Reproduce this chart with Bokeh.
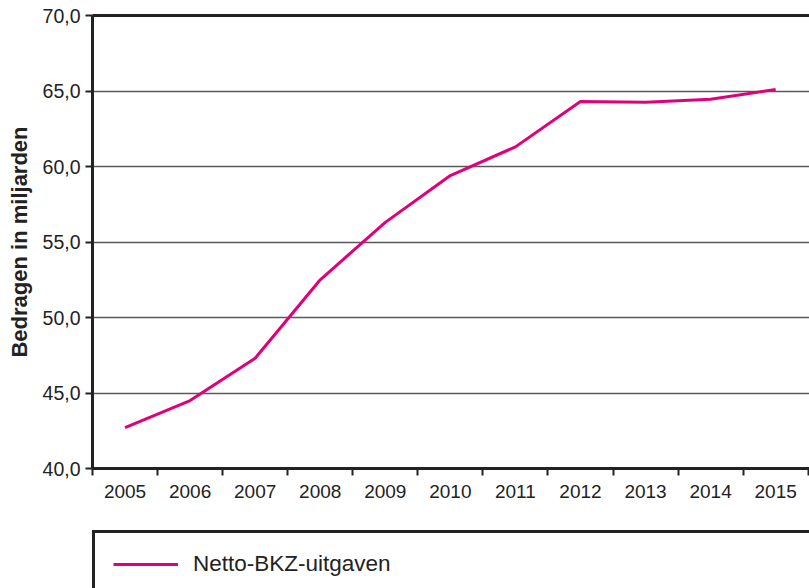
from bokeh.plotting import figure
from bokeh.layouts import column
from bokeh.models import Range1d, FixedTicker, LinearAxis
from bokeh.embed import file_html
from bokeh.resources import INLINE

years = [2005, 2006, 2007, 2008, 2009, 2010, 2011, 2012, 2013, 2014, 2015]
netto_bkz = [42.7, 44.5, 47.3, 52.5, 56.3, 59.4, 61.3, 64.3, 64.25, 64.45, 65.1]
series_name = "Netto-BKZ-uitgaven"
y_ticks = [40, 45, 50, 55, 60, 65, 70]
y_tick_labels = ["40,0", "45,0", "50,0", "55,0", "60,0", "65,0", "70,0"]
x_tick_labels = [str(y) for y in years]
y_title = "Bedragen in miljarden"

FONT = "Liberation Sans"
DARK = "#222222"
PINK = "#E2007A"

p = figure(width=809, height=518, output_backend="svg", toolbar_location=None,
           x_range=Range1d(years[0] - 0.5, years[-1] + 0.52),
           y_range=Range1d(40, 70),
           min_border_left=92, min_border_top=15, min_border_right=0,
           min_border_bottom=50)
p.outline_line_color = None
p.background_fill_color = "white"
p.border_fill_color = "white"

p.line(years, netto_bkz, line_color=PINK, line_width=3)

# x axis
xa = p.xaxis[0]
xa.ticker = FixedTicker(ticks=years, minor_ticks=[y - 0.5 for y in years] + [years[-1] + 0.5])
xa.major_label_overrides = dict(zip(years, x_tick_labels))
xa.major_tick_line_color = None
xa.major_tick_out = 7
xa.major_tick_in = 0
xa.minor_tick_line_color = DARK
xa.minor_tick_line_width = 2
xa.minor_tick_out = 7
xa.minor_tick_in = 0
xa.axis_line_color = DARK
xa.axis_line_width = 3
xa.major_label_standoff = 9
xa.major_label_text_font = FONT
xa.major_label_text_font_size = "19px"
xa.major_label_text_color = DARK

# y axis
ya = p.yaxis[0]
ya.ticker = FixedTicker(ticks=y_ticks, minor_ticks=[])
ya.major_label_overrides = dict(zip(y_ticks, y_tick_labels))
ya.major_tick_line_color = DARK
ya.major_tick_line_width = 2
ya.major_tick_out = 7
ya.major_tick_in = 0
ya.axis_line_color = DARK
ya.axis_line_width = 3
ya.major_label_standoff = 5
ya.major_label_text_font = FONT
ya.major_label_text_font_size = "19.5px"
ya.major_label_text_color = DARK
ya.axis_label = y_title
ya.axis_label_text_font = FONT
ya.axis_label_text_font_style = "bold"
ya.axis_label_text_font_size = "22px"
ya.axis_label_text_color = DARK
ya.axis_label_standoff = 8

# top border line
top = LinearAxis(ticker=FixedTicker(ticks=[]), major_label_text_font_size="0px",
                 axis_line_color=DARK, axis_line_width=3,
                 major_tick_line_color=None, minor_tick_line_color=None)
p.add_layout(top, "above")

p.xgrid.visible = False
p.ygrid.ticker = FixedTicker(ticks=y_ticks)
p.ygrid.grid_line_color = "#5a5a5a"
p.ygrid.grid_line_width = 1.5

# legend figure
p2 = figure(width=809, height=70, output_backend="svg", toolbar_location=None,
            x_range=Range1d(0, 1), y_range=Range1d(0, 1),
            x_axis_type=None, y_axis_type=None,
            min_border_left=92, min_border_right=0, min_border_top=0, min_border_bottom=0)
p2.outline_line_color = None
p2.grid.visible = False
p2.line(years, netto_bkz, line_color=PINK, line_width=3, legend_label=series_name)
lg = p2.legend[0]
lg.location = (0, -10)
lg.border_line_color = DARK
lg.border_line_alpha = 1
lg.border_line_width = 3
lg.padding = 18
lg.margin = 0
lg.glyph_width = 65
lg.glyph_height = 20
lg.label_standoff = 15
lg.label_width = 600
lg.label_text_font = FONT
lg.label_text_font_size = "22.5px"
lg.label_text_color = DARK
lg.background_fill_color = "white"
lg.background_fill_alpha = 1

layout = column(p, p2, spacing=0)
open("out.html", "w").write(file_html(layout, INLINE))
